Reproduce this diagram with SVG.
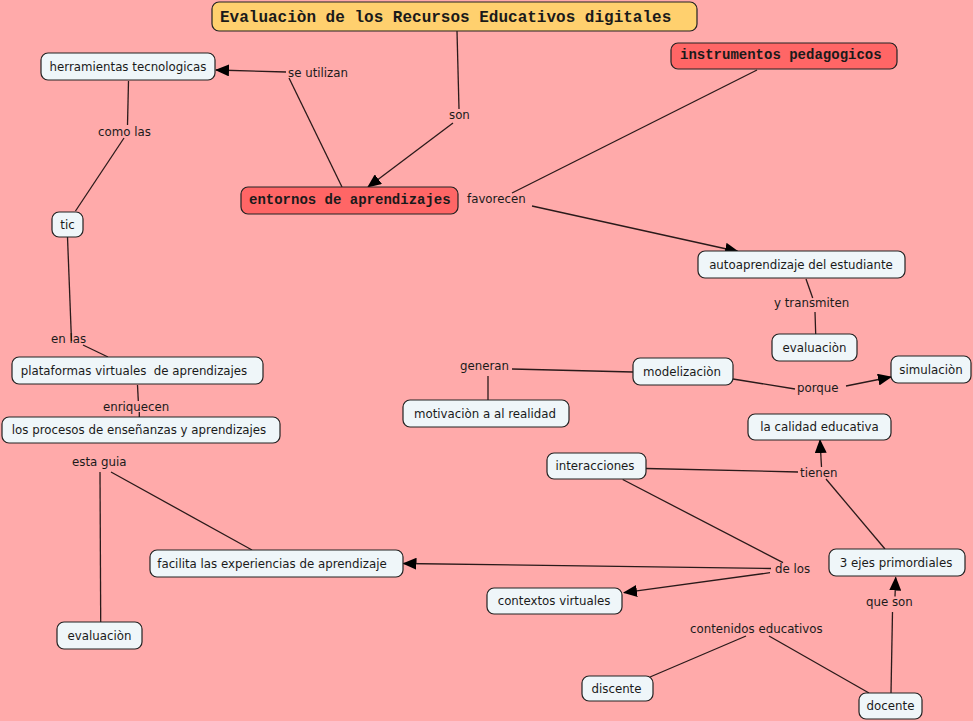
<svg xmlns="http://www.w3.org/2000/svg" width="973" height="721" viewBox="0 0 973 721">
<defs>
<marker id="arr" markerUnits="userSpaceOnUse" markerWidth="14" markerHeight="12" refX="13" refY="6" orient="auto">
<path d="M0,0 L14,6 L0,12 z" fill="#000"/>
</marker>
<style>
.n{fill:#EFF6F9;stroke:#222;stroke-width:1.2}
.r{fill:#FF6666;stroke:#222;stroke-width:1.2}
.t{fill:#FFD06E;stroke:#222;stroke-width:1.2}
.lt{font-family:"DejaVu Sans",Verdana,sans-serif;font-size:11.8px;fill:#1a1a1a;text-anchor:middle}
.ll{font-family:"DejaVu Sans",Verdana,sans-serif;font-size:11.8px;fill:#1a1a1a}
.mt{font-family:"Liberation Mono","Courier New",monospace;font-weight:bold;fill:#1a1a1a}
.c line{stroke:#2a1a1a;stroke-width:1.3}
.c .a{marker-end:url(#arr)}
</style>
</defs>
<rect width="973" height="721" fill="#FFAAAA"/>
<g class="c" id="connectors">
<line x1="457" y1="31" x2="459" y2="109"/>
<line class="a" x1="453" y1="123" x2="368" y2="187"/>
<line x1="342" y1="187" x2="289" y2="78"/>
<line class="a" x1="286" y1="72" x2="216" y2="70"/>
<line x1="128.5" y1="81" x2="127.5" y2="125"/>
<line x1="124" y1="138" x2="75.5" y2="211"/>
<line x1="67.5" y1="237" x2="71.5" y2="341"/>
<line x1="83" y1="345" x2="108" y2="357"/>
<line x1="137.5" y1="385" x2="138.3" y2="401"/>
<line x1="139.3" y1="412" x2="139.3" y2="417"/>
<line x1="100" y1="472" x2="100.7" y2="622"/>
<line x1="111" y1="472" x2="252" y2="550"/>
<line x1="757" y1="70" x2="512" y2="193"/>
<line class="a" x1="532" y1="206" x2="738" y2="251.5"/>
<line x1="806" y1="279" x2="812.7" y2="298"/>
<line x1="815" y1="312" x2="815.7" y2="334"/>
<line x1="512" y1="369" x2="633" y2="372"/>
<line x1="488" y1="376" x2="488" y2="400"/>
<line x1="733" y1="379" x2="795" y2="389"/>
<line class="a" x1="846" y1="386" x2="891" y2="377"/>
<line x1="646" y1="468.5" x2="798" y2="472"/>
<line class="a" x1="821.5" y1="467" x2="820" y2="440"/>
<line x1="885" y1="549" x2="826" y2="479"/>
<line x1="622.7" y1="479.5" x2="783" y2="562.7"/>
<line class="a" x1="771" y1="568.5" x2="403.5" y2="563.5"/>
<line class="a" x1="770" y1="572.7" x2="624" y2="592.7"/>
<line x1="891" y1="693" x2="892.5" y2="612"/>
<line class="a" x1="895" y1="596.5" x2="895.7" y2="577.5"/>
<line x1="746" y1="636" x2="650" y2="677"/>
<line x1="769" y1="636" x2="869" y2="693"/>
</g>
<g id="link-labels">
<text class="ll" x="288" y="77">se utilizan</text>
<text class="ll" x="449" y="119">son</text>
<text class="ll" x="98" y="135.5">como las</text>
<text class="ll" x="467" y="203">favorecen</text>
<text class="ll" x="51" y="343">en las</text>
<text class="ll" x="103" y="411">enriquecen</text>
<text class="ll" x="72" y="466">esta guia</text>
<text class="ll" x="774" y="307">y transmiten</text>
<text class="ll" x="460" y="370">generan</text>
<text class="ll" x="797" y="392">porque</text>
<text class="ll" x="800" y="477">tienen</text>
<text class="ll" x="775" y="573">de los</text>
<text class="ll" x="866" y="606">que son</text>
<text class="ll" x="690" y="633">contenidos educativos</text>
</g>
<g id="n-title"><rect class="t" x="212" y="2" width="485" height="29" rx="7"/><text class="mt" x="220" y="21.5" font-size="16">Evaluaciòn de los Recursos Educativos digitales</text></g>
<g id="n-instrumentos"><rect class="r" x="671" y="43" width="226" height="26" rx="7"/><text class="mt" x="680" y="59" font-size="14">instrumentos pedagogicos</text></g>
<g id="n-entornos"><rect class="r" x="241" y="187" width="217" height="27" rx="7"/><text class="mt" x="249" y="203.5" font-size="14">entornos de aprendizajes</text></g>
<g id="n-herramientas"><rect class="n" x="41" y="53" width="174" height="27" rx="7"/><text class="lt" x="128" y="70.5">herramientas tecnologicas</text></g>
<g id="n-tic"><rect class="n" x="52" y="212" width="31" height="25" rx="7"/><text class="lt" x="67.5" y="228.5">tic</text></g>
<g id="n-plataformas"><rect class="n" x="12" y="357" width="251" height="27" rx="7"/><text class="lt" x="134" y="374.5">plataformas virtuales&#160; de aprendizajes</text></g>
<g id="n-procesos"><rect class="n" x="2" y="417" width="278" height="26" rx="7"/><text class="lt" x="139" y="434">los procesos de enseñanzas y aprendizajes</text></g>
<g id="n-autoaprendizaje"><rect class="n" x="698" y="251" width="207" height="27" rx="7"/><text class="lt" x="801" y="268.5">autoaprendizaje del estudiante</text></g>
<g id="n-evaluacion1"><rect class="n" x="772" y="334" width="85" height="27" rx="7"/><text class="lt" x="814.5" y="351.5">evaluaciòn</text></g>
<g id="n-simulacion"><rect class="n" x="891" y="356" width="80" height="27" rx="7"/><text class="lt" x="931" y="373.5">simulaciòn</text></g>
<g id="n-modelizacion"><rect class="n" x="633" y="358" width="100" height="27" rx="7"/><text class="lt" x="682" y="375.5">modelizaciòn</text></g>
<g id="n-motivacion"><rect class="n" x="403" y="400" width="166" height="27" rx="7"/><text class="lt" x="485" y="417.5">motivaciòn a al realidad</text></g>
<g id="n-calidad"><rect class="n" x="748" y="414" width="143" height="26" rx="7"/><text class="lt" x="819.5" y="431">la calidad educativa</text></g>
<g id="n-interacciones"><rect class="n" x="547" y="453" width="99" height="26" rx="7"/><text class="lt" x="595" y="470">interacciones</text></g>
<g id="n-ejes"><rect class="n" x="829" y="549" width="136" height="27" rx="7"/><text class="lt" x="896" y="566.5">3 ejes primordiales</text></g>
<g id="n-facilita"><rect class="n" x="150" y="550" width="253" height="27" rx="7"/><text class="lt" x="272" y="567.5">facilita las experiencias de aprendizaje</text></g>
<g id="n-contextos"><rect class="n" x="487" y="588" width="135" height="26" rx="7"/><text class="lt" x="554" y="605">contextos virtuales</text></g>
<g id="n-evaluacion2"><rect class="n" x="57" y="622" width="85" height="27" rx="7"/><text class="lt" x="99.5" y="639.5">evaluaciòn</text></g>
<g id="n-discente"><rect class="n" x="582" y="676" width="71" height="25" rx="7"/><text class="lt" x="616.5" y="692.5">discente</text></g>
<g id="n-docente"><rect class="n" x="859" y="693" width="63" height="26" rx="7"/><text class="lt" x="890.5" y="710">docente</text></g>
</svg>
